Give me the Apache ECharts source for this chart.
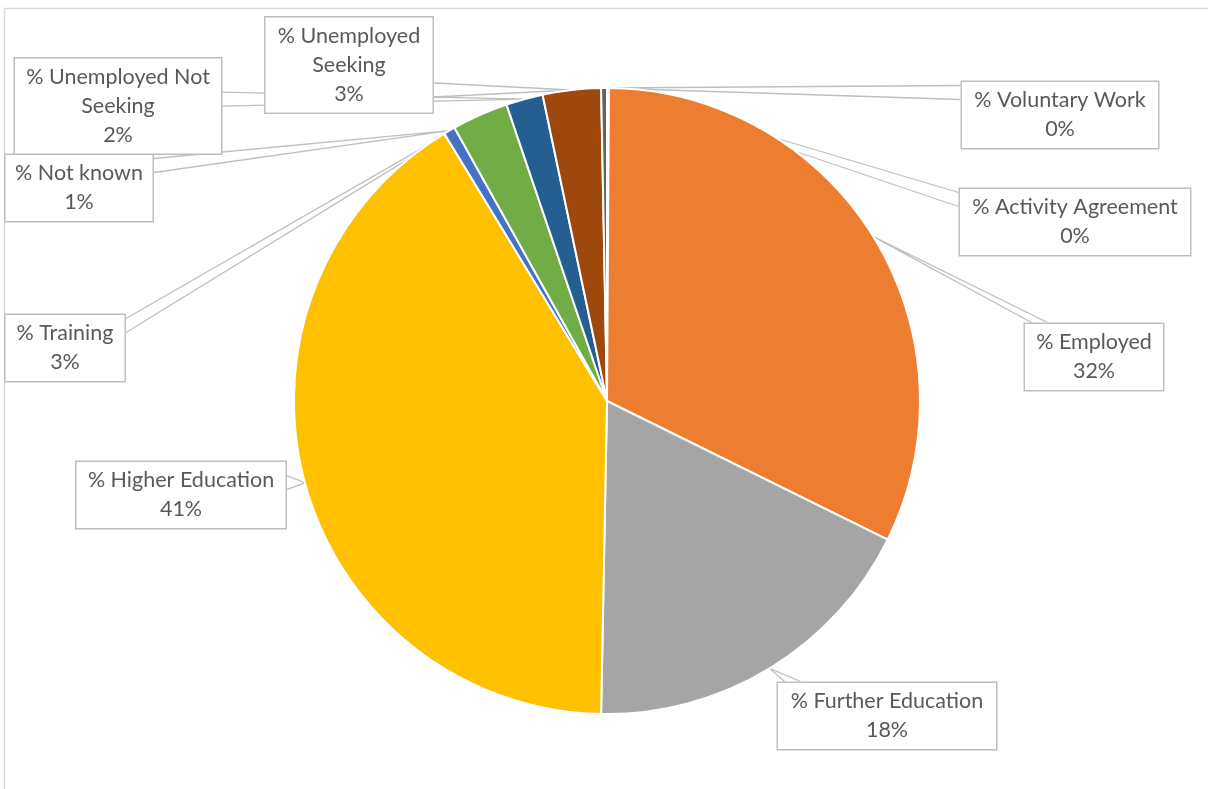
<!DOCTYPE html>
<html><head><meta charset="utf-8">
<script src="https://cdn.jsdelivr.net/npm/echarts/dist/echarts.min.js"></script>
<style>html,body{margin:0;padding:0;background:#fff}#c{width:1208px;height:789px}</style>
</head><body><div id="c"></div>
<script>
const categories = ['% Activity Agreement','% Employed','% Further Education','% Higher Education','% Not known','% Training','% Unemployed Not Seeking','% Unemployed Seeking','% Voluntary Work'];
const values = [0.1, 32.2, 18.0, 41.0, 0.6, 2.9, 1.9, 3.0, 0.3];
const colors = ['#5B9BD5','#ED7D31','#A5A5A5','#FFC000','#4472C4','#70AD47','#255E91','#9E480E','#636363'];
const lineBreaks = {'% Unemployed Not Seeking':'% Unemployed Not\nSeeking','% Unemployed Seeking':'% Unemployed\nSeeking'};
// label box layout: centre x, centre y, inner box width
const labelBoxes = [
  [1075, 222, 210],
  [1094, 357, 118],
  [887, 716, 198],
  [181, 495, 189],
  [79, 188, 127],
  [65, 348, 99],
  [118, 106, 186],
  [349, 65, 147],
  [1060, 115, 176]
];
function clamp(v,a,b){return Math.max(a,Math.min(b,v));}
const chart = echarts.init(document.getElementById('c'));
chart.setOption({
  animation:false,
  graphic:[{type:'rect',shape:{x:4.5,y:8.5,width:1400,height:900},style:{fill:'none',stroke:'#D9D9D9',lineWidth:1.5},silent:true}],
  series:[{
    type:'pie',
    center:[607,401],
    radius:313,
    startAngle:90,
    clockwise:true,
    avoidLabelOverlap:false,
    percentPrecision:0,
    itemStyle:{borderColor:'#fff',borderWidth:2},
    label:{
      show:true,
      position:'outside',
      formatter:p=>(lineBreaks[p.name]||p.name)+'\n'+p.percent+'%',
      fontFamily:'Lato',fontSize:21.5,lineHeight:29,color:'#595959',overflow:'none',
      backgroundColor:'#fff',borderColor:'#BFBFBF',borderWidth:1.5,padding:[4,10],align:'center'
    },
    labelLine:{show:true,length:10,length2:0,lineStyle:{color:'#BFBFBF',width:1.3}},
    labelLayout:function(params){
      const b = labelBoxes[params.dataIndex];
      const w = params.labelRect.width, h = params.labelRect.height;
      const hw=w/2, hh=h/2;
      const x0=b[0]-hw, x1=b[0]+hw, y0=b[1]-hh, y1=b[1]+hh;
      const p = params.labelLinePoints[0];
      const rx = Math.abs(p[0]-b[0])/hw, ry = Math.abs(p[1]-b[1])/hh;
      let pts;
      if (rx > ry) {
        const ex = p[0] < b[0] ? x0 : x1;
        const cy = clamp(p[1], y0+12, y1-12);
        pts = [[ex,cy-7],[p[0],p[1]],[ex,cy+7]];
      } else {
        const ey = p[1] < b[1] ? y0 : y1;
        const cx = clamp(p[0], x0+16, x1-16);
        pts = [[cx-8,ey],[p[0],p[1]],[cx+8,ey]];
      }
      return {x:b[0], y:b[1], align:'center', verticalAlign:'middle', labelLinePoints:pts};
    },
    data: categories.map((n,i)=>({name:n,value:values[i],itemStyle:{color:colors[i]},label:{width:labelBoxes[i][2]}}))
  }]
});
</script></body></html>
